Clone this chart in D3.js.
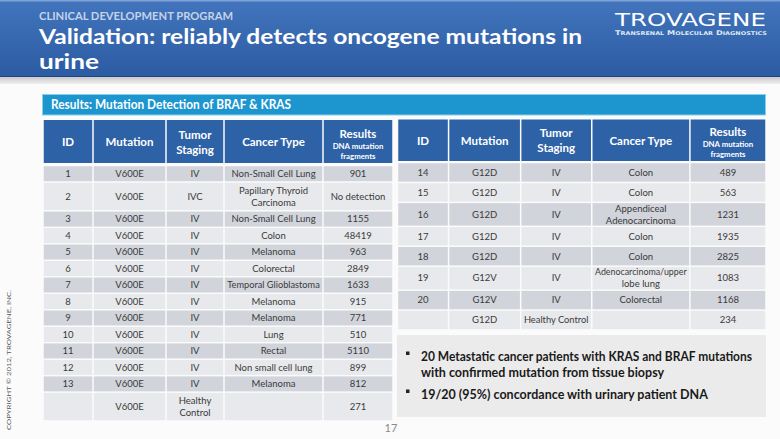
<!DOCTYPE html>
<html><head><meta charset="utf-8">
<script src="https://cdn.jsdelivr.net/npm/d3@7"></script>
<style>body{margin:0;background:#fff}svg{display:block}</style>
</head><body>
<svg id="c" width="780" height="439"></svg>
<script>
// ---- data ----
const headers = ["ID","Mutation","Tumor|Staging","Cancer Type","Results"];
const resultsSub = ["DNA mutation","fragments"];

const leftIds = ["1","2","3","4","5","6","7","8","9","10","11","12","13",""];
const leftMutations = ["V600E","V600E","V600E","V600E","V600E","V600E","V600E","V600E","V600E","V600E","V600E","V600E","V600E","V600E"];
const leftStaging = ["IV","IVC","IV","IV","IV","IV","IV","IV","IV","IV","IV","IV","IV","Healthy|Control"];
const leftCancer = ["Non-Small Cell Lung","Papillary Thyroid|Carcinoma","Non-Small Cell Lung","Colon","Melanoma","Colorectal","Temporal Glioblastoma","Melanoma","Melanoma","Lung","Rectal","Non small cell lung","Melanoma",""];
const leftResults = ["901","No detection","1155","48419","963","2849","1633","915","771","510","5110","899","812","271"];

const rightIds = ["14","15","16","17","18","19","20",""];
const rightMutations = ["G12D","G12D","G12D","G12D","G12D","G12V","G12V","G12D"];
const rightStaging = ["IV","IV","IV","IV","IV","IV","IV","Healthy Control"];
const rightCancer = ["Colon","Colon","Appendiceal|Adenocarcinoma","Colon","Colon","Adenocarcinoma/upper|lobe lung","Colorectal",""];
const rightResults = ["489","563","1231","1935","2825","1083","1168","234"];

const bullets = [
  ["20 Metastatic cancer patients with KRAS and BRAF mutations","with confirmed mutation from tissue biopsy"],
  ["19/20 (95%)  concordance with urinary patient DNA"]
];
const kicker = "CLINICAL DEVELOPMENT PROGRAM";
const titleLines = ["Validation: reliably detects oncogene mutations in","urine"];
const bannerText = "Results: Mutation Detection of BRAF & KRAS";

// ---- drawing ----
const svg = d3.select("#c");
const defs = svg.append("defs");
const g1 = defs.append("linearGradient").attr("id","hdr").attr("x1",0).attr("y1",0).attr("x2",0).attr("y2",1);
g1.append("stop").attr("offset","0%").attr("stop-color","#4275bd");
g1.append("stop").attr("offset","100%").attr("stop-color","#2b5ba2");
const g2 = defs.append("linearGradient").attr("id","strip").attr("x1",0).attr("y1",0).attr("x2",0).attr("y2",1);
g2.append("stop").attr("offset","0%").attr("stop-color","#c9c9c9");
g2.append("stop").attr("offset","100%").attr("stop-color","#f0f0f0");

function fit(sel, max){
  const n = sel.node();
  if(n.getComputedTextLength() > max) sel.attr("textLength",max).attr("lengthAdjust","spacingAndGlyphs");
  return sel;
}

svg.append("rect").attr("x",0).attr("y",0).attr("width",780).attr("height",439).attr("fill","#fbfbfb");
svg.append("rect").attr("x",0).attr("y",0).attr("width",780).attr("height",77).attr("fill","url(#hdr)");
svg.append("rect").attr("x",0).attr("y",0).attr("width",780).attr("height",1.5).attr("fill","#7fa3d6");
svg.append("rect").attr("x",0).attr("y",76).attr("width",780).attr("height",1).attr("fill","#1f4680");
svg.append("rect").attr("x",0).attr("y",77).attr("width",780).attr("height",7).attr("fill","url(#strip)");

const F = "Lato, 'Open Sans', sans-serif";
svg.append("text").attr("x",39).attr("y",19.5).text(kicker)
  .attr("font-family",F).attr("font-weight",700).attr("font-size",12).attr("fill","#c5d3e8")
  .attr("textLength",194).attr("lengthAdjust","spacingAndGlyphs");
svg.append("text").attr("x",39).attr("y",43.5).text(titleLines[0])
  .attr("font-family",F).attr("font-weight",700).attr("font-size",21).attr("fill","#fff")
  .attr("textLength",543).attr("lengthAdjust","spacingAndGlyphs");
svg.append("text").attr("x",39).attr("y",68.5).text(titleLines[1])
  .attr("font-family",F).attr("font-weight",700).attr("font-size",21).attr("fill","#fff")
  .attr("textLength",60).attr("lengthAdjust","spacingAndGlyphs");

// logo
svg.append("text").attr("x",615).attr("y",26).text("TROVAGENE")
  .attr("font-family","'DejaVu Sans', sans-serif").attr("font-size",18.5).attr("fill","#fff")
  .attr("textLength",151).attr("lengthAdjust","spacingAndGlyphs");
const sub = svg.append("text").attr("x",615).attr("y",34.5)
  .attr("font-family","'DejaVu Sans', sans-serif").attr("font-weight",700).attr("fill","#dfe8f5")
  .attr("textLength",152).attr("lengthAdjust","spacingAndGlyphs");
"Transrenal Molecular Diagnostics".split(" ").forEach((w,i)=>{
  sub.append("tspan").attr("font-size",6.4).text((i?" ":"")+w[0]);
  sub.append("tspan").attr("font-size",5).text(w.slice(1).toUpperCase());
});

// banner
svg.append("rect").attr("x",42.5).attr("y",94.5).attr("width",723).attr("height",20.5)
  .attr("fill","#1d95ce").attr("stroke","#88cdec").attr("stroke-width",1);
svg.append("text").attr("x",51).attr("y",109).text(bannerText)
  .attr("font-family",F).attr("font-weight",700).attr("font-size",13).attr("fill","#fff")
  .attr("textLength",240).attr("lengthAdjust","spacingAndGlyphs");

function drawTable(cfg){
  const {x0,x1,hy0,hy1,by0,by1,colW,dbl,cols} = cfg;
  const n = cols[0].length;
  const cum = [0]; colW.forEach(w=>cum.push(cum[cum.length-1]+w));
  const xs = d3.scaleLinear().domain([0,cum[cum.length-1]]).range([x0,x1]);
  const wts = d3.range(n).map(i=>d3.max(cols,c=>c[i].split("|").length)>1 ? dbl : 1);
  const rc = [0]; wts.forEach(w=>rc.push(rc[rc.length-1]+w));
  const ys = d3.scaleLinear().domain([0,rc[rc.length-1]]).range([by0,by1]);
  const g = svg.append("g");
  headers.forEach((h,j)=>{
    const xa = xs(cum[j])+0.75, xb = xs(cum[j+1])-0.75;
    g.append("rect").attr("x",xa).attr("y",hy0).attr("width",xb-xa).attr("height",hy1-hy0).attr("fill","#2e62a7");
    const cx=(xa+xb)/2, cy=(hy0+hy1)/2;
    const t = g.append("text").attr("text-anchor","middle").attr("fill","#fff")
      .attr("font-family",F).attr("font-weight",700).attr("font-size",11.5);
    if(h==="Results"){
      t.append("tspan").attr("x",cx).attr("y",cy-4).text(h);
      resultsSub.forEach((s,k)=>g.append("text").attr("text-anchor","middle").attr("fill","#fff")
        .attr("font-family",F).attr("font-weight",700).attr("font-size",7.8)
        .attr("x",cx).attr("y",cy+7+k*10).text(s));
    } else {
      const parts=h.split("|");
      parts.forEach((p,k)=>t.append("tspan").attr("x",cx).attr("y",cy+4.5+(k-(parts.length-1)/2)*15).text(p));
    }
  });
  d3.range(n).forEach(i=>{
    const ya = ys(rc[i])+0.75, yb = ys(rc[i+1])-0.75, cy=(ya+yb)/2;
    cols.forEach((col,j)=>{
      const xa = xs(cum[j])+0.75, xb = xs(cum[j+1])-0.75, cx=(xa+xb)/2;
      g.append("rect").attr("x",xa).attr("y",ya).attr("width",xb-xa).attr("height",yb-ya)
        .attr("fill", i%2===0 ? "#d1d4da" : "#e8e9ec");
      const parts = col[i] ? col[i].split("|") : [];
      parts.forEach((p,k)=>{
        const t = g.append("text").attr("text-anchor","middle").attr("fill","#3a3a3a")
          .attr("font-family",F).attr("font-size",9.5)
          .attr("x",cx).attr("y",cy+3.3+(k-(parts.length-1)/2)*12).text(p);
        fit(t, xb-xa-5);
      });
    });
  });
}

drawTable({x0:43,x1:393,hy0:120,hy1:163,by0:165.5,by1:421,colW:[50,73,58,99,70],dbl:1.75,
  cols:[leftIds,leftMutations,leftStaging,leftCancer,leftResults]});
drawTable({x0:397.5,x1:766,hy0:119.5,hy1:161,by0:162.5,by1:330,colW:[51,72,71,98,76],dbl:1.2,
  cols:[rightIds,rightMutations,rightStaging,rightCancer,rightResults]});

// bullet box
svg.append("rect").attr("x",397).attr("y",335).attr("width",369).attr("height",82).attr("fill","#ebebeb");
const by=[357,373,395];
let li=0;
bullets.forEach(b=>{
  b.forEach((line,k)=>{
    if(k===0) svg.append("rect").attr("x",406).attr("y",by[li]-5.5).attr("width",3.5).attr("height",3.5).attr("fill","#222");
    const t = svg.append("text").attr("x",421).attr("y",by[li]+4).text(line)
      .attr("font-family",F).attr("font-weight",700).attr("font-size",12.5).attr("fill","#1a1a1a");
    fit(t, 331);
    li++;
  });
});

// page number & copyright
svg.append("text").attr("x",391).attr("y",432).attr("text-anchor","middle").text("17")
  .attr("font-family",F).attr("font-size",11).attr("fill","#8a8a8a");
svg.append("text").attr("transform","translate(11,430) rotate(-90)").text("COPYRIGHT © 2012, TROVAGENE, INC.")
  .attr("font-family",F).attr("font-size",5.5).attr("fill","#555")
  .attr("textLength",140).attr("lengthAdjust","spacingAndGlyphs");
</script>
</body></html>
